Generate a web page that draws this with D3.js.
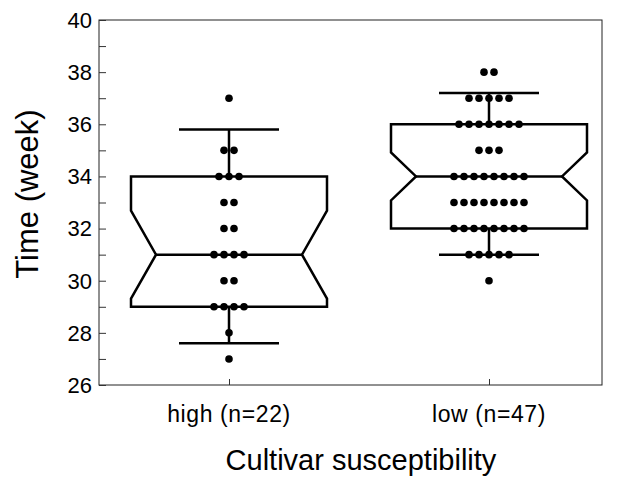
<!DOCTYPE html>
<html>
<head>
<meta charset="utf-8">
<script src="https://cdn.jsdelivr.net/npm/d3@7"></script>
<style>
  body { margin: 0; background: #fff; }
  svg { font-family: "Liberation Sans", Arial, sans-serif; }
</style>
</head>
<body>
<div class="chart"></div>
<script>
const groups = ['high (n=22)', 'low (n=47)']
// values of each dot row: [week, count]
const highDots = [[37,1],[35,2],[34,3],[33,2],[32,2],[31,4],[30,2],[29,4],[28,1],[27,1]]
const lowDots = [[38,2],[37,5],[36,7],[35,3],[34,8],[33,8],[32,8],[31,5],[30,1]]
const q1 = [29, 32]
const medians = [31, 34]
const q3 = [34, 36]
const whiskerLow = [27.6, 31]
const whiskerHigh = [35.8, 37.2]
const counts = [22, 47]
const yTicks = [26, 28, 30, 32, 34, 36, 38, 40]

const width = 621, height = 478
const plotLeft = 99, plotRight = 602, plotTop = 20, plotBottom = 385

const svg = d3.select('.chart').append('svg')
  .attr('width', width)
  .attr('height', height)

const y = d3.scaleLinear().domain([26, 40]).range([plotBottom, plotTop])
const x = d3.scalePoint().domain(groups).range([229, 489])

const boxHalf = 98, notchHalf = 73, capHalf = 50

// frame
svg.append('rect')
  .attr('x', plotLeft).attr('y', plotTop)
  .attr('width', plotRight - plotLeft).attr('height', plotBottom - plotTop)
  .attr('fill', 'none').attr('stroke', '#222').attr('stroke-width', 1)

// y axis
let yAxis = svg.append('g')
  .attr('transform', 'translate(' + plotLeft + ',0)')
  .call(d3.axisRight(y).tickValues(d3.range(26, 41, 1)).tickSize(7).tickFormat(''))
yAxis.select('.domain').remove()
yAxis.selectAll('line').attr('stroke', '#333')

svg.append('g').selectAll('text')
  .data(yTicks)
  .enter()
  .append('text')
  .attr('x', plotLeft - 7)
  .attr('y', d => y(d))
  .attr('dy', '0.36em')
  .attr('text-anchor', 'end')
  .attr('font-size', 22)
  .text(d => d)

// x axis
let xAxis = svg.append('g')
  .attr('transform', 'translate(0,' + plotBottom + ')')
  .call(d3.axisTop(x).tickSize(6).tickFormat(''))
xAxis.select('.domain').remove()
xAxis.selectAll('line').attr('stroke', '#333')

svg.append('g').selectAll('text')
  .data(groups)
  .enter()
  .append('text')
  .attr('x', d => x(d))
  .attr('y', 422)
  .attr('text-anchor', 'middle')
  .attr('font-size', 23)
  .attr('letter-spacing', 0.6)
  .text(d => d)

// titles
svg.append('text')
  .attr('transform', 'translate(38,194) rotate(-90)')
  .attr('text-anchor', 'middle')
  .attr('font-size', 31)
  .text('Time (week)')

svg.append('text')
  .attr('x', 361)
  .attr('y', 470)
  .attr('text-anchor', 'middle')
  .attr('font-size', 29)
  .text('Cultivar susceptibility')

// boxes
groups.forEach((g, i) => {
  let cx = x(g)
  let notch = 1.58 * (q3[i] - q1[i]) / Math.sqrt(counts[i])
  let pts = [
    [cx - boxHalf, y(q3[i])],
    [cx - boxHalf, y(medians[i] + notch)],
    [cx - notchHalf, y(medians[i])],
    [cx - boxHalf, y(medians[i] - notch)],
    [cx - boxHalf, y(q1[i])],
    [cx + boxHalf, y(q1[i])],
    [cx + boxHalf, y(medians[i] - notch)],
    [cx + notchHalf, y(medians[i])],
    [cx + boxHalf, y(medians[i] + notch)],
    [cx + boxHalf, y(q3[i])]
  ]
  let box = svg.append('g').attr('stroke', '#000').attr('stroke-width', 2.5).attr('fill', 'none')

  box.append('path')
    .attr('d', d3.line()(pts) + 'Z')
    .attr('stroke-linejoin', 'miter')

  box.append('line')
    .attr('x1', cx - notchHalf).attr('x2', cx + notchHalf)
    .attr('y1', y(medians[i])).attr('y2', y(medians[i]))

  // whiskers
  box.append('line')
    .attr('x1', cx).attr('x2', cx)
    .attr('y1', y(q3[i])).attr('y2', y(whiskerHigh[i]))
  box.append('line')
    .attr('x1', cx).attr('x2', cx)
    .attr('y1', y(q1[i])).attr('y2', y(whiskerLow[i]))
  box.append('line')
    .attr('x1', cx - capHalf).attr('x2', cx + capHalf)
    .attr('y1', y(whiskerHigh[i])).attr('y2', y(whiskerHigh[i]))
  box.append('line')
    .attr('x1', cx - capHalf).attr('x2', cx + capHalf)
    .attr('y1', y(whiskerLow[i])).attr('y2', y(whiskerLow[i]))
})

// dots
const dotGap = 10
;[highDots, lowDots].forEach((rows, i) => {
  let cx = x(groups[i])
  let dots = []
  rows.forEach(r => {
    for (let k = 0; k < r[1]; k++) {
      dots.push({ v: r[0], off: (k - (r[1] - 1) / 2) * dotGap })
    }
  })
  svg.append('g').selectAll('circle')
    .data(dots)
    .enter()
    .append('circle')
    .attr('cx', d => cx + d.off)
    .attr('cy', d => y(d.v))
    .attr('r', 3.8)
    .attr('fill', '#000')
})
</script>
</body>
</html>
